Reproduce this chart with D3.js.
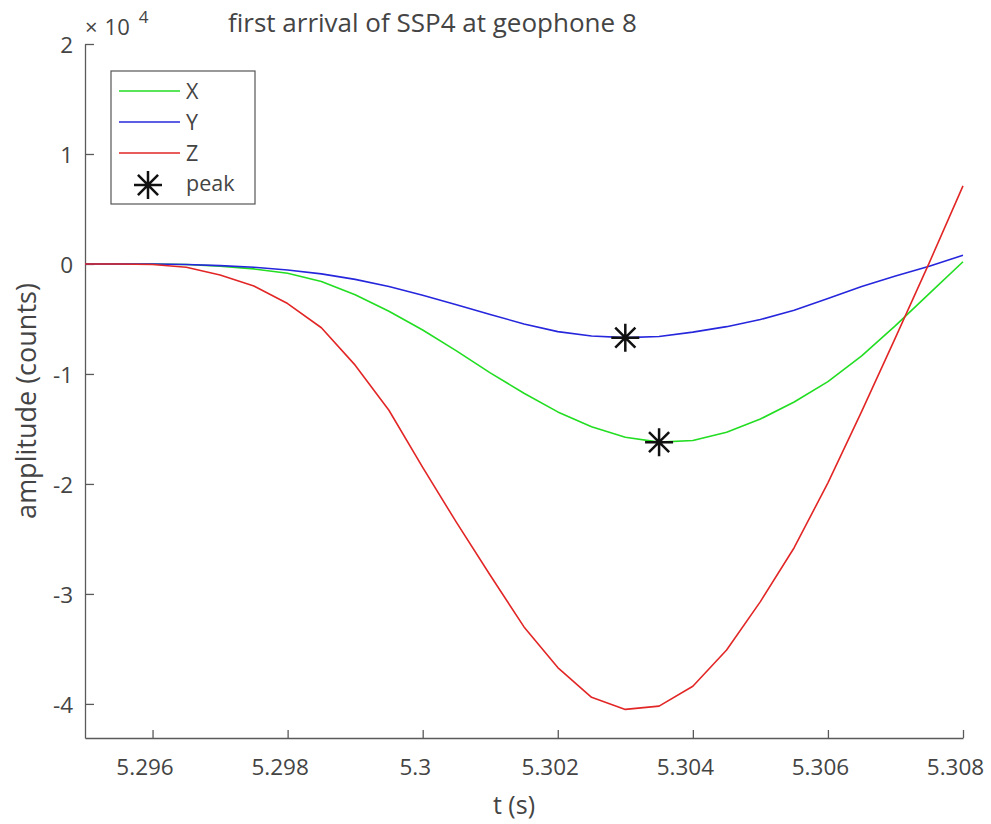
<!DOCTYPE html>
<html>
<head>
<meta charset="utf-8">
<script src="https://cdn.jsdelivr.net/npm/d3@7"></script>
<style>
  html, body { margin: 0; padding: 0; background: #fff; }
  svg text { font-family: "Open Sans", "Noto Sans", sans-serif; fill: #444; }
</style>
</head>
<body>
<svg id="chart" width="991" height="824"></svg>
<script>
// Sample times (s), 2 kHz sampling
const times = [5.2950, 5.2955, 5.2960, 5.2965, 5.2970, 5.2975, 5.2980, 5.2985, 5.2990,
               5.2995, 5.3000, 5.3005, 5.3010, 5.3015, 5.3020, 5.3025, 5.3030, 5.3035,
               5.3040, 5.3045, 5.3050, 5.3055, 5.3060, 5.3065, 5.3070, 5.3075, 5.3080];

// Amplitudes in counts per component
const ampX = [0, 0, 0, -50, -200, -450, -850, -1600, -2800, -4300, -6000, -7900, -9900,
              -11750, -13450, -14800, -15750, -16200, -16050, -15300, -14100, -12550,
              -10700, -8350, -5600, -2700, 200];
const ampY = [0, 0, 0, -50, -150, -300, -550, -900, -1400, -2050, -2850, -3700, -4600,
              -5450, -6150, -6550, -6700, -6600, -6200, -5700, -5050, -4200, -3150,
              -2050, -1100, -200, 800];
const ampZ = [0, 0, -50, -300, -1000, -2000, -3600, -5800, -9200, -13300, -18500, -23500,
              -28300, -33000, -36700, -39400, -40500, -40200, -38400, -35100, -30700,
              -25800, -19900, -13400, -6700, 100, 7100];

// Peak picks (time, amplitude)
const peakT = [5.3030, 5.3035];
const peakA = [-6700, -16200];

const seriesNames = ["X", "Y", "Z"];
const seriesColors = ["#22dd22", "#2626dd", "#e22626"];

const xTicks = [5.296, 5.298, 5.300, 5.302, 5.304, 5.306, 5.308];
const xTickLabels = ["5.296", "5.298", "5.3", "5.302", "5.304", "5.306", "5.308"];
const yTicks = [2, 1, 0, -1, -2, -3, -4];
const yTickLabels = ["2", "1", "0", "-1", "-2", "-3", "-4"];

const svg = d3.select("#chart");
const plotL = 85, plotR = 963, plotT = 44, plotB = 738;

const x = d3.scaleLinear().domain([5.295, 5.308]).range([plotL, plotR]);
// y axis is labelled in units of 10^4 counts
const y = d3.scaleLinear().domain([-4.31, 2]).range([plotB, plotT]);

const axisColor = "#5a5a5a";
const tickFont = "22.5px";

// Axes (left and bottom only), ticks pointing inwards
const xAxis = svg.append("g").attr("transform", `translate(0,${plotB})`)
  .call(d3.axisBottom(x).tickValues(xTicks).tickSizeInner(-8).tickSizeOuter(0)
        .tickFormat((d, i) => xTickLabels[i]));
xAxis.select(".domain").attr("stroke", axisColor).attr("stroke-width", 1.3);
xAxis.selectAll(".tick line").attr("stroke", axisColor).attr("stroke-width", 1.3);
xAxis.selectAll(".tick text").attr("y", 37).attr("dy", 0).attr("dx", -8)
  .style("font-size", tickFont);

const yAxis = svg.append("g").attr("transform", `translate(${plotL},0)`)
  .call(d3.axisLeft(y).tickValues(yTicks).tickSizeInner(-9).tickSizeOuter(0)
        .tickFormat((d, i) => yTickLabels[i]));
yAxis.select(".domain").attr("stroke", axisColor).attr("stroke-width", 1.3);
yAxis.selectAll(".tick line").attr("stroke", axisColor).attr("stroke-width", 1.3);
yAxis.selectAll(".tick text").attr("x", -12).attr("dy", "0.36em")
  .style("font-size", tickFont);
svg.selectAll(".tick text").attr("fill", "#444");

// Exponent label
const expo = svg.append("text").attr("x", 85).attr("y", 35).style("font-size", "22px");
expo.append("tspan").text("\u00d7");
expo.append("tspan").attr("dx", 7).text("10");
expo.append("tspan").attr("dx", 9).attr("dy", -12).style("font-size", "17px").text("4");

// Title and axis labels
svg.append("text").attr("x", 228).attr("y", 32)
  .style("font-size", "26px").attr("fill", "#222").text("first arrival of SSP4 at geophone 8");
svg.append("text").attr("x", 514).attr("y", 814).attr("text-anchor", "middle")
  .style("font-size", "25px").attr("fill", "#333").text("t (s)");
svg.append("text").attr("transform", `translate(36,401) rotate(-90)`)
  .attr("text-anchor", "middle").style("font-size", "27px").attr("fill", "#333")
  .text("amplitude (counts)");

// Traces
const series = [ampX, ampY, ampZ];
const line = d3.line().x((d, i) => x(times[i])).y(d => y(d / 1e4));
series.forEach((s, k) => {
  svg.append("path").datum(s).attr("d", line).attr("fill", "none")
    .attr("stroke", seriesColors[k]).attr("stroke-width", 1.6)
    .attr("stroke-linejoin", "round");
});

// Asterisk marker: plus and cross combined
function star(g, cx, cy, r) {
  const d = r * 0.72;
  g.append("path")
    .attr("d", `M${cx - r},${cy}H${cx + r}M${cx},${cy - r}V${cy + r}` +
               `M${cx - d},${cy - d}L${cx + d},${cy + d}M${cx - d},${cy + d}L${cx + d},${cy - d}`)
    .attr("stroke", "#111").attr("stroke-width", 2.5).attr("fill", "none");
}
const peaks = svg.append("g");
peakT.forEach((t, i) => star(peaks, x(t), y(peakA[i] / 1e4), 14));

// Legend
const lg = svg.append("g");
lg.append("rect").attr("x", 111).attr("y", 71).attr("width", 144).attr("height", 133)
  .attr("fill", "#fff").attr("stroke", "#555").attr("stroke-width", 1.2);
seriesNames.forEach((n, k) => {
  const ly = 91 + k * 31;
  lg.append("line").attr("x1", 119).attr("x2", 180).attr("y1", ly).attr("y2", ly)
    .attr("stroke", seriesColors[k]).attr("stroke-width", 1.6);
  lg.append("text").attr("x", 186).attr("y", ly).attr("dy", "0.36em")
    .style("font-size", "21.5px").attr("fill", "#222").text(n);
});
star(lg, 148, 185, 14);
lg.append("text").attr("x", 186).attr("y", 183).attr("dy", "0.36em")
  .style("font-size", "21.5px").attr("fill", "#222").text("peak");
</script>
</body>
</html>
